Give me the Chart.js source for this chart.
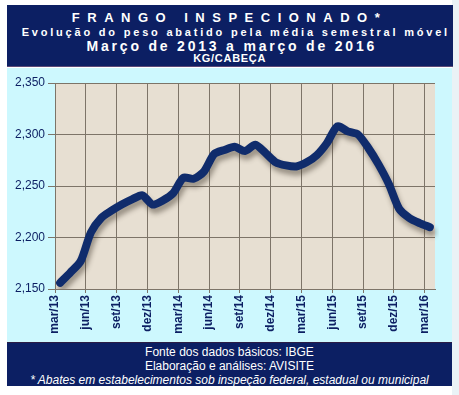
<!DOCTYPE html>
<html>
<head>
<meta charset="utf-8">
<script src="https://cdn.jsdelivr.net/npm/chart.js@4"></script>
<style>
body { margin: 0; background: #fff; width: 459px; height: 395px; overflow: hidden; position: relative; font-family: "Liberation Sans", Arial, sans-serif; }
#lado { position: absolute; left: 452px; top: 0; width: 7px; height: 395px; background: #eaf2f6; }
#titulo { position: absolute; left: 7px; top: 5px; width: 446px; height: 61px; background: #0c1f63; color: #fff; font-weight: bold; border-bottom: 1px solid #5a4a78; }
#titulo div { position: absolute; left: 0; width: 100%; text-align: center; white-space: nowrap; }
#caixa { position: absolute; left: 7px; top: 68px; width: 445px; height: 274px; background: #cdf8fe; }
#rodape { position: absolute; left: 7px; top: 342px; width: 445px; height: 44px; background: #0c1f63; color: #fff; font-size: 12px; line-height: 14px; text-align: center; border-top: 1px solid #2b1d45; box-sizing: border-box; padding-top: 2px; }
</style>
</head>
<body>
<div id="lado"></div>
<div id="titulo">
  <div style="top:5.7px;font-size:13px;line-height:13px;letter-spacing:7.5px;padding-left:7.5px;margin-left:-8px">FRANGO INSPECIONADO*</div>
  <div style="top:21.7px;font-size:11px;line-height:11px;letter-spacing:2.8px;padding-left:2.8px;margin-left:3px">Evolução do peso abatido pela média semestral móvel</div>
  <div style="top:33.8px;font-size:14px;line-height:14px;letter-spacing:2.8px;padding-left:2.8px;margin-left:-1px">Março de 2013 a março de 2016</div>
  <div style="top:48.4px;font-size:11px;line-height:11px;letter-spacing:0.7px;padding-left:0.7px;margin-left:-1px">KG/CABEÇA</div>
</div>
<div id="caixa"><canvas id="grafico" width="445" height="274"></canvas></div>
<div id="rodape">
  Fonte dos dados básicos: IBGE<br>
  Elaboração e análises: AVISITE<br>
  <i>* Abates em estabelecimentos sob inspeção federal, estadual ou municipal</i>
</div>

<script>
const meses = [
  'mar/13','abr/13','mai/13','jun/13','jul/13','ago/13','set/13','out/13','nov/13','dez/13','jan/14','fev/14',
  'mar/14','abr/14','mai/14','jun/14','jul/14','ago/14','set/14','out/14','nov/14','dez/14','jan/15','fev/15',
  'mar/15','abr/15','mai/15','jun/15','jul/15','ago/15','set/15','out/15','nov/15','dez/15','jan/16','fev/16',
  'mar/16'
];
const peso = [
  2156, 2166, 2177, 2205, 2219, 2226, 2232, 2237, 2241, 2232, 2236, 2243,
  2258, 2257, 2264, 2281, 2285, 2288, 2284, 2290, 2282, 2273, 2270, 2269,
  2273, 2280, 2292, 2308, 2303, 2300, 2287, 2271, 2252, 2228, 2219, 2214,
  2210
];
const eixoY = { min: 2150, max: 2350, passo: 50 };

const corGrade = '#7d7468';
const azul = '#0c1f63';

const fundo = {
  id: 'fundo',
  beforeDraw(chart) {
    const { ctx, chartArea: a } = chart;
    ctx.save();
    ctx.fillStyle = '#e7dfd2';
    ctx.fillRect(a.left, a.top, a.right - a.left, a.bottom - a.top);
    ctx.restore();
  }
};

const sombra = {
  id: 'sombra',
  beforeDatasetDraw(chart) {
    const ctx = chart.ctx;
    ctx.save();
    ctx.shadowColor = 'rgba(60,50,40,0.45)';
    ctx.shadowOffsetX = 2;
    ctx.shadowOffsetY = 5;
    ctx.shadowBlur = 5;
  },
  afterDatasetDraw(chart) {
    chart.ctx.restore();
  }
};

new Chart(document.getElementById('grafico'), {
  type: 'line',
  data: {
    labels: meses,
    datasets: [{
      data: peso,
      borderColor: '#102c6c',
      borderWidth: 8,
      borderCapStyle: 'round',
      borderJoinStyle: 'round',
      pointRadius: 0,
      tension: 0.25,
      fill: false
    }]
  },
  options: {
    responsive: false,
    animation: false,
    layout: { padding: { left: 0, top: 15, right: 17, bottom: 0 } },
    plugins: { legend: { display: false }, tooltip: { enabled: false } },
    scales: {
      x: {
        offset: true,
        afterFit(s) { s.height = 53; },
        grid: {
          offset: true,
          color: c => (c.tick && c.index % 3 === 0) ? corGrade : 'rgba(0,0,0,0)',
          tickLength: 4,
          lineWidth: 1
        },
        border: { display: true, color: corGrade },
        ticks: {
          autoSkip: false,
          minRotation: 90,
          maxRotation: 90,
          padding: 2,
          labelOffset: -5.1,
          color: azul,
          font: { family: '"Liberation Sans", Arial, sans-serif', size: 12, weight: 'bold' },
          callback: (v, i) => i % 3 === 0 ? meses[i] : ''
        }
      },
      y: {
        min: eixoY.min,
        max: eixoY.max,
        afterFit(s) { s.width = 48; },
        grid: { color: corGrade, tickLength: 7, lineWidth: 1 },
        border: { display: true, color: corGrade },
        ticks: {
          stepSize: eixoY.passo,
          padding: 3,
          color: azul,
          font: { family: '"Liberation Sans", Arial, sans-serif', size: 12 },
          callback: v => v.toLocaleString('en-US')
        }
      }
    }
  },
  plugins: [fundo, sombra]
});
</script>
</body>
</html>
